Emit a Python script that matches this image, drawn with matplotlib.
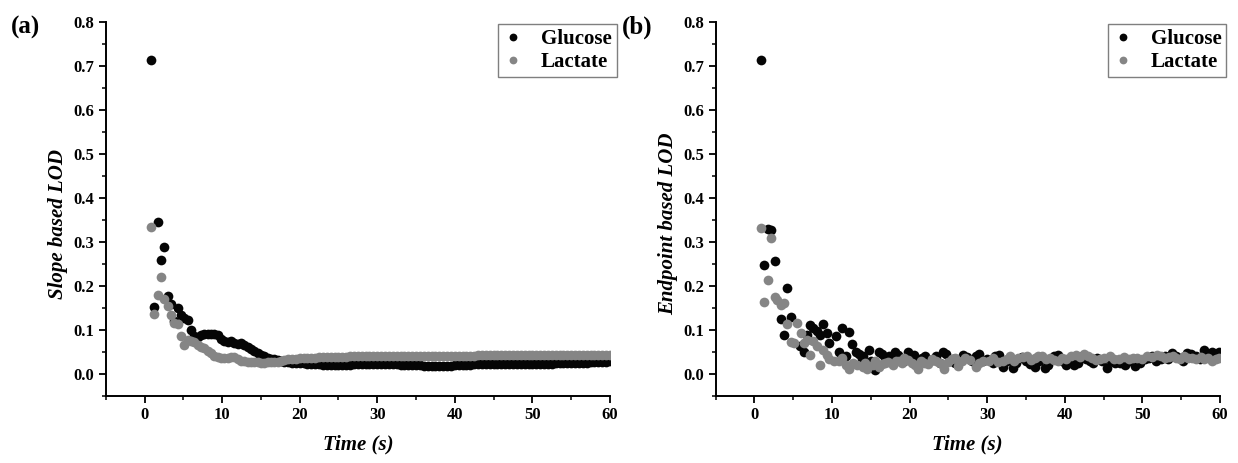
import matplotlib
matplotlib.use("Agg")
import matplotlib.pyplot as plt
from matplotlib.ticker import MultipleLocator, FormatStrFormatter
from matplotlib.lines import Line2D

# ---------------- data ----------------
time_a = [0.82, 1.25, 1.68, 2.11, 2.54, 2.97, 3.40, 3.83, 4.26, 4.69,
          5.12, 5.55, 5.98, 6.41, 6.84, 7.27, 7.70, 8.13, 8.56, 8.99,
          9.42, 9.85, 10.28, 10.71, 11.14, 11.57, 12.00, 12.43, 12.86, 13.29,
          13.72, 14.15, 14.58, 15.01, 15.44, 15.87, 16.30, 16.73, 17.16, 17.59,
          18.0, 18.5, 19.0, 19.5, 20.0, 20.5, 21.0, 21.5, 22.0, 22.5,
          23.0, 23.5, 24.0, 24.5, 25.0, 25.5, 26.0, 26.5, 27.0, 27.5,
          28.0, 28.5, 29.0, 29.5, 30.0, 30.5, 31.0, 31.5, 32.0, 32.5,
          33.0, 33.5, 34.0, 34.5, 35.0, 35.5, 36.0, 36.5, 37.0, 37.5,
          38.0, 38.5, 39.0, 39.5, 40.0, 40.5, 41.0, 41.5, 42.0, 42.5,
          43.0, 43.5, 44.0, 44.5, 45.0, 45.5, 46.0, 46.5, 47.0, 47.5,
          48.0, 48.5, 49.0, 49.5, 50.0, 50.5, 51.0, 51.5, 52.0, 52.5,
          53.0, 53.5, 54.0, 54.5, 55.0, 55.5, 56.0, 56.5, 57.0, 57.5,
          58.0, 58.5, 59.0, 59.5, 60.0]
glucose_slope = [0.714, 0.152, 0.345, 0.258, 0.289, 0.178, 0.160, 0.120, 0.150, 0.135,
                 0.127, 0.122, 0.100, 0.086, 0.083, 0.088, 0.091, 0.092, 0.090, 0.092,
                 0.089, 0.080, 0.075, 0.073, 0.074, 0.071, 0.069, 0.070, 0.066, 0.062,
                 0.056, 0.052, 0.047, 0.044, 0.040, 0.037, 0.035, 0.033, 0.031, 0.029,
                 0.028, 0.027, 0.026, 0.025, 0.024, 0.024, 0.023, 0.023, 0.022, 0.022,
                 0.021, 0.020, 0.020, 0.020, 0.020, 0.020, 0.021, 0.021, 0.022, 0.022,
                 0.022, 0.022, 0.022, 0.022, 0.022, 0.022, 0.022, 0.022, 0.022, 0.022,
                 0.021, 0.021, 0.020, 0.020, 0.020, 0.020, 0.019, 0.019, 0.019, 0.018,
                 0.018, 0.018, 0.019, 0.019, 0.020, 0.020, 0.021, 0.021, 0.021, 0.022,
                 0.022, 0.022, 0.022, 0.022, 0.022, 0.022, 0.022, 0.022, 0.022, 0.022,
                 0.022, 0.022, 0.022, 0.022, 0.022, 0.022, 0.023, 0.023, 0.023, 0.023,
                 0.024, 0.024, 0.024, 0.025, 0.025, 0.025, 0.026, 0.026, 0.026, 0.027,
                 0.027, 0.027, 0.028, 0.028, 0.029]
lactate_slope = [0.333, 0.137, 0.180, 0.220, 0.170, 0.155, 0.135, 0.116, 0.113, 0.087,
                 0.066, 0.077, 0.074, 0.072, 0.066, 0.062, 0.058, 0.053, 0.047, 0.041,
                 0.038, 0.036, 0.036, 0.036, 0.038, 0.039, 0.034, 0.030, 0.029, 0.028,
                 0.028, 0.027, 0.027, 0.026, 0.026, 0.027, 0.027, 0.027, 0.028, 0.029,
                 0.031, 0.033, 0.034, 0.035, 0.036, 0.036, 0.037, 0.037, 0.037, 0.038,
                 0.038, 0.038, 0.038, 0.039, 0.039, 0.039, 0.039, 0.040, 0.040, 0.040,
                 0.040, 0.040, 0.040, 0.040, 0.040, 0.040, 0.040, 0.040, 0.040, 0.040,
                 0.041, 0.041, 0.041, 0.041, 0.041, 0.041, 0.041, 0.041, 0.041, 0.041,
                 0.042, 0.042, 0.042, 0.042, 0.042, 0.042, 0.042, 0.042, 0.042, 0.042,
                 0.043, 0.043, 0.043, 0.043, 0.043, 0.043, 0.043, 0.043, 0.043, 0.043,
                 0.043, 0.043, 0.043, 0.043, 0.043, 0.043, 0.043, 0.043, 0.043, 0.043,
                 0.043, 0.043, 0.043, 0.043, 0.043, 0.043, 0.043, 0.043, 0.043, 0.043,
                 0.043, 0.043, 0.043, 0.043, 0.043]

time_b_glucose = [0.86, 1.27, 1.73, 2.14, 2.59, 3.36, 3.81, 4.22, 4.68, 5.9,
                  6.4, 6.76, 7.2, 7.6, 8.0, 8.4, 8.85, 9.3, 9.66, 10.5,
                  10.9, 11.3, 11.8, 12.2, 12.6, 13.1, 13.5, 14.0, 14.7, 15.5,
                  16.0, 16.8, 17.3, 18.1, 18.8, 19.8, 20.6, 21.6, 22.6, 23.4,
                  24.3, 25.2, 25.9, 26.9, 28.0, 29.0, 30.0, 31.5, 32.0, 33.3,
                  34.0, 35.0, 36.1, 37.4, 38.1, 39.1, 40.2, 41.2, 42.2, 43.2,
                  44.2, 45.4, 46.5, 47.8, 49.1, 50.3, 51.3, 52.4, 53.8, 54.9,
                  55.8, 56.9, 58.0, 59.0, 59.9,
                  13.8, 15.0, 15.9, 16.5, 17.7, 18.5, 19.3, 20.2, 21.1, 22.0,
                  23.0, 23.9, 24.7, 25.6, 26.4, 27.4, 28.5, 29.5, 30.7, 31.0,
                  32.6, 33.7, 34.5, 35.5, 36.7, 37.8, 38.6, 39.6, 40.7, 41.7,
                  42.7, 43.7, 44.8, 45.9, 47.1, 48.4, 49.7, 50.8, 51.8, 52.9,
                  53.3, 54.3, 55.3, 56.3, 57.4, 58.5, 59.5]
glucose_endpoint = [0.713, 0.247, 0.330, 0.328, 0.256, 0.126, 0.089, 0.195, 0.129, 0.063,
                    0.051, 0.089, 0.112, 0.104, 0.097, 0.089, 0.114, 0.093, 0.070, 0.087,
                    0.051, 0.104, 0.040, 0.095, 0.068, 0.049, 0.045, 0.040, 0.055, 0.010,
                    0.049, 0.036, 0.042, 0.050, 0.036, 0.051, 0.044, 0.036, 0.029, 0.040,
                    0.049, 0.029, 0.025, 0.044, 0.029, 0.046, 0.033, 0.044, 0.017, 0.014,
                    0.033, 0.029, 0.017, 0.014, 0.033, 0.044, 0.021, 0.021, 0.042, 0.029,
                    0.036, 0.014, 0.025, 0.021, 0.019, 0.033, 0.040, 0.034, 0.048, 0.036,
                    0.048, 0.040, 0.055, 0.049, 0.051,
                    0.035, 0.030, 0.020, 0.045, 0.030, 0.043, 0.030, 0.040, 0.025, 0.040,
                    0.035, 0.025, 0.045, 0.035, 0.028, 0.038, 0.040, 0.030, 0.025, 0.040,
                    0.030, 0.025, 0.038, 0.022, 0.030, 0.020, 0.040, 0.030, 0.030, 0.025,
                    0.035, 0.025, 0.030, 0.030, 0.025, 0.030, 0.025, 0.037, 0.030, 0.040,
                    0.035, 0.042, 0.030, 0.045, 0.035, 0.042, 0.040]
time_b_lactate = [0.86, 1.27, 1.73, 2.14, 2.59, 2.95, 3.36, 3.81, 4.22, 4.68,
                  5.1, 5.5, 5.95, 6.35, 6.76, 7.2, 7.6, 8.0, 8.4, 8.85,
                  9.3, 9.66, 10.2, 10.9, 11.3, 11.8, 12.2, 12.7, 13.2, 14.0,
                  14.5, 15.3, 16.0, 16.8, 17.8, 18.6, 19.3, 20.3, 21.1, 21.9,
                  22.9, 23.9, 24.4, 25.4, 26.2, 27.2, 28.5, 29.5, 30.8, 32.0,
                  33.0, 34.0, 35.1, 36.1, 37.1, 38.1, 39.1, 40.2, 41.4, 42.5,
                  43.5, 44.5, 45.8, 47.0, 48.3, 49.3, 50.6, 51.9, 52.9, 53.9,
                  54.9, 55.9, 56.9, 58.0, 59.0, 59.9,
                  14.3, 15.6, 16.4, 17.2, 18.2, 19.0, 19.8, 20.7, 21.5, 22.4,
                  23.4, 24.9, 25.8, 26.7, 27.8, 29.0, 30.2, 31.4, 32.5, 33.5,
                  34.6, 35.6, 36.6, 37.6, 38.6, 39.7, 40.8, 41.9, 43.0, 44.0,
                  45.1, 46.4, 47.6, 48.8, 49.9, 51.2, 52.4, 53.4, 54.4, 55.4,
                  56.4, 57.5, 58.5, 59.5]
lactate_endpoint = [0.331, 0.163, 0.214, 0.310, 0.174, 0.169, 0.157, 0.161, 0.114, 0.072,
                    0.070, 0.116, 0.093, 0.070, 0.078, 0.044, 0.074, 0.063, 0.021, 0.055,
                    0.044, 0.033, 0.029, 0.030, 0.036, 0.021, 0.011, 0.025, 0.021, 0.017,
                    0.011, 0.021, 0.017, 0.025, 0.021, 0.029, 0.036, 0.025, 0.011, 0.026,
                    0.033, 0.025, 0.011, 0.033, 0.019, 0.036, 0.017, 0.029, 0.036, 0.029,
                    0.040, 0.036, 0.040, 0.036, 0.042, 0.036, 0.029, 0.033, 0.044, 0.046,
                    0.036, 0.034, 0.040, 0.033, 0.034, 0.036, 0.040, 0.044, 0.036, 0.040,
                    0.033, 0.036, 0.033, 0.034, 0.029, 0.036,
                    0.025, 0.030, 0.022, 0.028, 0.030, 0.024, 0.032, 0.020, 0.030, 0.022,
                    0.030, 0.028, 0.036, 0.030, 0.032, 0.025, 0.030, 0.028, 0.035, 0.030,
                    0.038, 0.032, 0.040, 0.034, 0.032, 0.037, 0.040, 0.038, 0.042, 0.032,
                    0.036, 0.035, 0.038, 0.036, 0.034, 0.038, 0.040, 0.038, 0.036, 0.040,
                    0.036, 0.038, 0.036, 0.034]

series_names = ["Glucose", "Lactate"]
panel_labels = ["(a)", "(b)"]
y_labels = ["Slope based LOD", "Endpoint based LOD"]
x_label = "Time (s)"

# ---------------- style ----------------
plt.rcParams['font.family'] = ['Liberation Serif', 'DejaVu Serif']
plt.rcParams['font.weight'] = 'bold'
GLU_C = '#050505'
LAC_C = '#858585'
MS = 7.0

fig = plt.figure(figsize=(12.38, 4.63), dpi=100)
axA = fig.add_axes([0.0854, 0.1447, 0.4073, 0.8078])
axB = fig.add_axes([0.5781, 0.1447, 0.4073, 0.8078])

panels = [
    (axA, time_a, glucose_slope, time_a, lactate_slope),
    (axB, time_b_glucose, glucose_endpoint, time_b_lactate, lactate_endpoint),
]

for i, (ax, tg, g, tl, l) in enumerate(panels):
    ax.plot(tg, g, 'o', ls='none', color=GLU_C, ms=MS, mew=0, label=series_names[0], zorder=3)
    ax.plot(tl, l, 'o', ls='none', color=LAC_C, ms=MS, mew=0, label=series_names[1], zorder=4)
    ax.set_xlim(-5, 60)
    ax.set_ylim(-0.05, 0.8)
    ax.spines['top'].set_visible(False)
    ax.spines['right'].set_visible(False)
    for s in ('left', 'bottom'):
        ax.spines[s].set_linewidth(1.4)
    ax.xaxis.set_major_locator(MultipleLocator(10))
    ax.xaxis.set_minor_locator(MultipleLocator(5))
    ax.yaxis.set_major_locator(MultipleLocator(0.1))
    ax.yaxis.set_minor_locator(MultipleLocator(0.05))
    ax.yaxis.set_major_formatter(FormatStrFormatter('%.1f'))
    ax.tick_params(which='major', direction='out', length=5, width=1.3, labelsize=12, pad=3)
    ax.tick_params(which='minor', direction='out', length=3, width=1.1)
    for lab in ax.get_xticklabels() + ax.get_yticklabels():
        lab.set_fontweight('bold')
    ax.set_xlabel(x_label, fontsize=15, fontweight='bold', fontstyle='italic')
    ax.xaxis.set_label_coords(0.5, -0.13)
    ax.xaxis.label.set_va('center')
    ax.set_ylabel(y_labels[i], fontsize=15, fontweight='bold', fontstyle='italic')
    ax.yaxis.label.set_va('center')
    ax.yaxis.set_label_coords(-0.095, 0.46)

    handles = [Line2D([], [], marker='o', ls='none', color=GLU_C, ms=MS * 0.8, mew=0),
               Line2D([], [], marker='o', ls='none', color=LAC_C, ms=MS * 0.8, mew=0)]
    leg = ax.legend(handles, series_names, loc='upper right', bbox_to_anchor=(1.013, 0.995),
                    prop={'family': 'Liberation Serif', 'weight': 'bold', 'size': 15},
                    frameon=True, fancybox=False, framealpha=1, edgecolor='#7f7f7f',
                    borderpad=0.25, labelspacing=0.15, handlelength=1.0, handletextpad=0.8,
                    borderaxespad=0.0)
    leg.get_frame().set_linewidth(1.0)

fig.text(0.021, 0.94, panel_labels[0], fontsize=18, fontweight='bold', ha='center', va='center')
fig.text(0.515, 0.94, panel_labels[1], fontsize=18, fontweight='bold', ha='center', va='center')

fig.savefig('out.png', dpi=100)
